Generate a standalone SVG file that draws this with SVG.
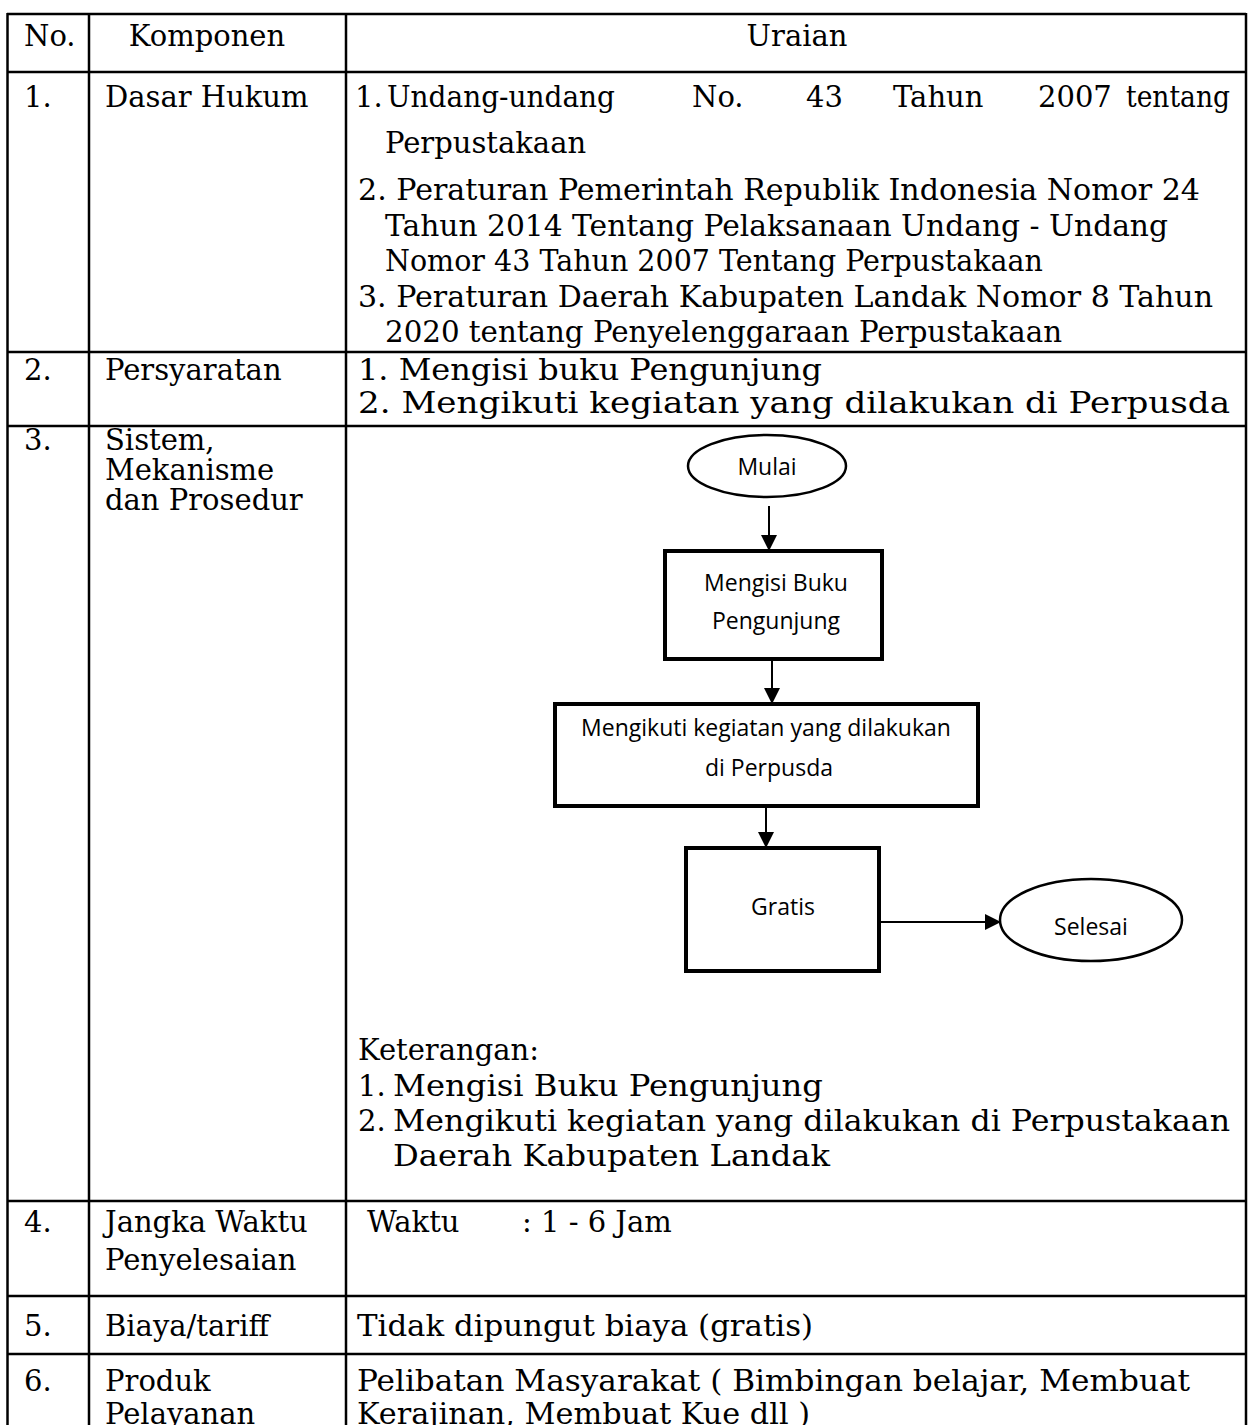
<svg xmlns="http://www.w3.org/2000/svg" width="1250" height="1425" viewBox="0 0 1250 1425">
<style>
.t{font-family:"DejaVu Serif","Liberation Serif",serif;font-size:29px;fill:#000}
.f{font-family:"Open Sans","Noto Sans",sans-serif;font-size:23px;fill:#000}
.grid{stroke:#000;stroke-width:2.5;fill:none}
.box{fill:#fff;stroke:#000;stroke-width:4}
.ell{fill:#fff;stroke:#000;stroke-width:2.5}
.con{stroke:#000;stroke-width:2;fill:none}
</style>
<defs>
<marker id="ah" markerWidth="8" markerHeight="8" refX="7" refY="4" orient="auto" markerUnits="strokeWidth">
<path d="M0,0 L8,4 L0,8 Z" fill="#000"/>
</marker>
</defs>
<rect width="1250" height="1425" fill="#fff"/>
<g id="table-grid" class="grid">
<line x1="7" y1="14" x2="1246" y2="14"/>
<line x1="7" y1="72" x2="1246" y2="72"/>
<line x1="7" y1="352" x2="1246" y2="352"/>
<line x1="7" y1="426" x2="1246" y2="426"/>
<line x1="7" y1="1201" x2="1246" y2="1201"/>
<line x1="7" y1="1296" x2="1246" y2="1296"/>
<line x1="7" y1="1354" x2="1246" y2="1354"/>
<line x1="7.5" y1="13" x2="7.5" y2="1425"/>
<line x1="89" y1="13" x2="89" y2="1425"/>
<line x1="346" y1="13" x2="346" y2="1425"/>
<line x1="1246" y1="13" x2="1246" y2="1425"/>
</g>
<g id="header">
<text class="t" x="24" y="46">No.</text>
<text class="t" x="207" y="46" text-anchor="middle">Komponen</text>
<text class="t" x="797" y="46" text-anchor="middle">Uraian</text>
</g>
<g id="row1">
<text class="t" x="24" y="107">1.</text>
<text class="t" x="105" y="107">Dasar Hukum</text>
<text class="t" x="355" y="107">1.</text>
<text class="t" x="387" y="107" textLength="228" lengthAdjust="spacingAndGlyphs">Undang-undang</text>
<text class="t" x="692" y="107">No.</text>
<text class="t" x="806" y="107">43</text>
<text class="t" x="893" y="107">Tahun</text>
<text class="t" x="1038" y="107">2007</text>
<text class="t" x="1126" y="107" textLength="104" lengthAdjust="spacingAndGlyphs">tentang</text>
<text class="t" x="385" y="153">Perpustakaan</text>
<text class="t" x="358" y="200" textLength="842" lengthAdjust="spacingAndGlyphs">2. Peraturan Pemerintah Republik Indonesia Nomor 24</text>
<text class="t" x="385" y="236" textLength="783" lengthAdjust="spacingAndGlyphs">Tahun 2014 Tentang Pelaksanaan Undang - Undang</text>
<text class="t" x="385" y="271" textLength="658" lengthAdjust="spacingAndGlyphs">Nomor 43 Tahun 2007 Tentang Perpustakaan</text>
<text class="t" x="358" y="307" textLength="855" lengthAdjust="spacingAndGlyphs">3. Peraturan Daerah Kabupaten Landak Nomor 8 Tahun</text>
<text class="t" x="385" y="342" textLength="677" lengthAdjust="spacingAndGlyphs">2020 tentang Penyelenggaraan Perpustakaan</text>
</g>
<g id="row2">
<text class="t" x="24" y="380">2.</text>
<text class="t" x="105" y="380">Persyaratan</text>
<text class="t" x="358" y="380" textLength="464" lengthAdjust="spacingAndGlyphs">1. Mengisi buku Pengunjung</text>
<text class="t" x="358" y="413" textLength="872" lengthAdjust="spacingAndGlyphs">2. Mengikuti kegiatan yang dilakukan di Perpusda</text>
</g>
<g id="row3">
<text class="t" x="24" y="450">3.</text>
<text class="t" x="105" y="450">Sistem,</text>
<text class="t" x="105" y="480">Mekanisme</text>
<text class="t" x="105" y="510">dan Prosedur</text>
<text class="t" x="358" y="1060">Keterangan:</text>
<text class="t" x="358" y="1096">1.</text>
<text class="t" x="393" y="1096" textLength="430" lengthAdjust="spacingAndGlyphs">Mengisi Buku Pengunjung</text>
<text class="t" x="358" y="1131">2.</text>
<text class="t" x="393" y="1131" textLength="837" lengthAdjust="spacingAndGlyphs">Mengikuti kegiatan yang dilakukan di Perpustakaan</text>
<text class="t" x="393" y="1166" textLength="437" lengthAdjust="spacingAndGlyphs">Daerah Kabupaten Landak</text>
</g>
<g id="row4">
<text class="t" x="24" y="1232">4.</text>
<text class="t" x="105" y="1232">Jangka Waktu</text>
<text class="t" x="105" y="1270">Penyelesaian</text>
<text class="t" x="367" y="1232">Waktu</text>
<text class="t" x="522" y="1232">: 1 - 6 Jam</text>
</g>
<g id="row5">
<text class="t" x="24" y="1336">5.</text>
<text class="t" x="105" y="1336">Biaya/tariff</text>
<text class="t" x="357" y="1336" textLength="456" lengthAdjust="spacingAndGlyphs">Tidak dipungut biaya (gratis)</text>
</g>
<g id="row6">
<text class="t" x="24" y="1391">6.</text>
<text class="t" x="105" y="1391">Produk</text>
<text class="t" x="105" y="1424">Pelayanan</text>
<text class="t" x="357" y="1391" textLength="833" lengthAdjust="spacingAndGlyphs">Pelibatan Masyarakat ( Bimbingan belajar, Membuat</text>
<text class="t" x="357" y="1424" textLength="453" lengthAdjust="spacingAndGlyphs">Kerajinan, Membuat Kue dll )</text>
</g>
<g id="connectors">
<line class="con" x1="769" y1="506" x2="769" y2="549" marker-end="url(#ah)"/>
<line class="con" x1="772" y1="661" x2="772" y2="702" marker-end="url(#ah)"/>
<line class="con" x1="766" y1="808" x2="766" y2="846" marker-end="url(#ah)"/>
<line class="con" x1="880" y1="922" x2="999" y2="922" marker-end="url(#ah)"/>
</g>
<g id="node-mulai">
<ellipse class="ell" cx="767" cy="466" rx="79" ry="31"/>
<text class="f" x="767" y="475" text-anchor="middle">Mulai</text>
</g>
<g id="node-mengisi">
<rect class="box" x="665" y="551" width="217" height="108"/>
<text class="f" x="776" y="591" text-anchor="middle">Mengisi Buku</text>
<text class="f" x="776" y="629" text-anchor="middle">Pengunjung</text>
</g>
<g id="node-mengikuti">
<rect class="box" x="555" y="704" width="423" height="102"/>
<text class="f" x="766" y="736" text-anchor="middle">Mengikuti kegiatan yang dilakukan</text>
<text class="f" x="769" y="776" text-anchor="middle">di Perpusda</text>
</g>
<g id="node-gratis">
<rect class="box" x="686" y="848" width="193" height="123"/>
<text class="f" x="783" y="915" text-anchor="middle">Gratis</text>
</g>
<g id="node-selesai">
<ellipse class="ell" cx="1091" cy="920" rx="91" ry="41"/>
<text class="f" x="1091" y="935" text-anchor="middle">Selesai</text>
</g>
</svg>
